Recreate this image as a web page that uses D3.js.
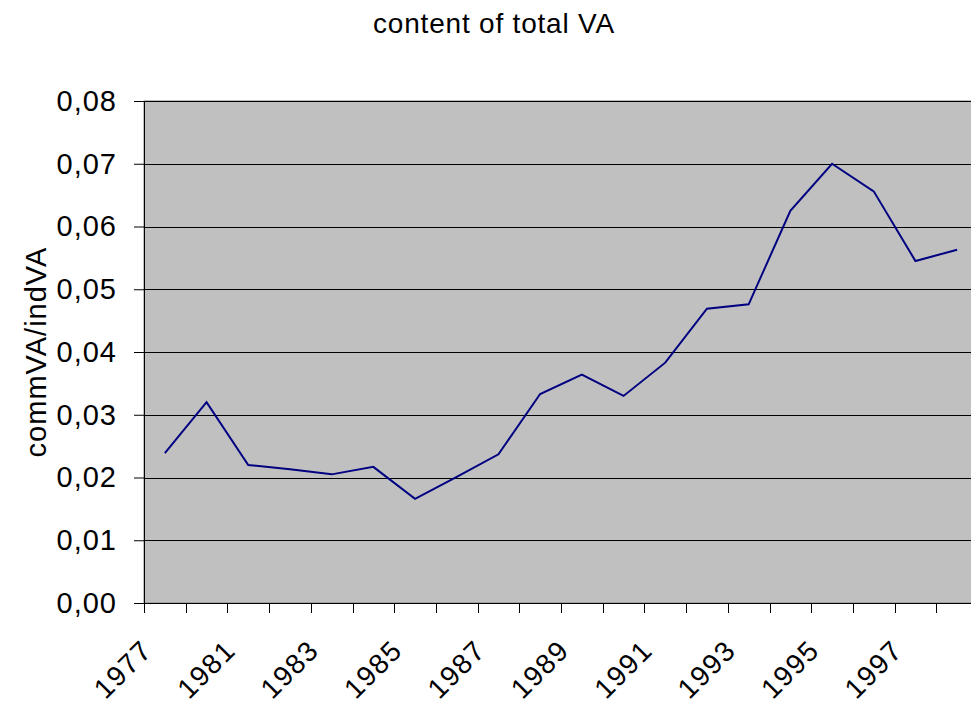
<!DOCTYPE html>
<html>
<head>
<meta charset="utf-8">
<script src="https://cdn.jsdelivr.net/npm/d3@7"></script>
<style>
  body { margin: 0; background: #fff; }
  svg { display: block; font-family: "Liberation Sans", Arial, sans-serif; }
</style>
</head>
<body>
<svg width="971" height="704"></svg>
<script>
// categories on the x axis (only every second one is labelled)
var years = ['1977', '1979', '1981', '1982', '1983', '1984', '1985', '1986', '1987', '1988',
             '1989', '1990', '1991', '1992', '1993', '1994', '1995', '1996', '1997', '1998'];
// commVA / indVA ratio
var ratio = [0.0239, 0.0320, 0.0220, 0.0213, 0.0205, 0.0217, 0.0166, 0.0201, 0.0237, 0.0333,
             0.0364, 0.0330, 0.0383, 0.0469, 0.0476, 0.0625, 0.0700, 0.0656, 0.0545, 0.0563];
var yTicks = [0, 0.01, 0.02, 0.03, 0.04, 0.05, 0.06, 0.07, 0.08];

var plotLeft = 144, plotRight = 978, plotTop = 101, plotBottom = 603;
var svg = d3.select('svg');

var x = d3.scaleBand().domain(years).range([plotLeft, plotRight]);
var y = d3.scaleLinear().domain([0, 0.08]).range([plotBottom, plotTop]);
var fmt = function(d) { return d3.format('.2f')(d).replace('.', ','); };

// plot background
svg.append('rect')
  .attr('x', plotLeft).attr('y', plotTop)
  .attr('width', plotRight - plotLeft).attr('height', plotBottom - plotTop)
  .attr('fill', '#c0c0c0')
  .attr('stroke', '#808080');

// gridlines
svg.append('g').selectAll('line')
  .data(yTicks.filter(function(d) { return d > 0; }))
  .enter().append('line')
  .attr('x1', plotLeft).attr('x2', plotRight)
  .attr('y1', function(d) { return Math.round(y(d)) + 0.5; })
  .attr('y2', function(d) { return Math.round(y(d)) + 0.5; })
  .attr('stroke', '#000');

// y axis
var yAxis = svg.append('g')
  .attr('transform', 'translate(' + plotLeft + ',0)')
  .call(d3.axisLeft(y).tickValues(yTicks).tickFormat(fmt).tickSize(10).tickPadding(17));
yAxis.select('.domain').attr('stroke', '#000').attr('d', 'M0.5,' + plotTop + 'V' + (plotBottom + 0.5));
yAxis.selectAll('.tick line').attr('stroke', '#000');
yAxis.selectAll('text')
  .attr('font-size', 29).attr('letter-spacing', 1)
  .attr('font-family', '"Liberation Sans", Arial, sans-serif')
  .attr('fill', '#000');

// x axis (ticks at the category boundaries)
svg.append('line')
  .attr('x1', plotLeft).attr('x2', plotRight)
  .attr('y1', plotBottom + 0.5).attr('y2', plotBottom + 0.5)
  .attr('stroke', '#000');
svg.append('g').selectAll('line')
  .data(years)
  .enter().append('line')
  .attr('x1', function(d) { return Math.round(x(d)) + 0.5; })
  .attr('x2', function(d) { return Math.round(x(d)) + 0.5; })
  .attr('y1', plotBottom).attr('y2', plotBottom + 10)
  .attr('stroke', '#000');

svg.append('g').selectAll('text')
  .data(years.filter(function(d, i) { return i % 2 === 0; }))
  .enter().append('text')
  .attr('transform', function(d) {
    var cx = x(d) + x.bandwidth() / 2;
    return 'translate(' + (cx - 11) + ',652) rotate(-45)';
  })
  .attr('text-anchor', 'end')
  .attr('font-size', 28).attr('letter-spacing', 1.5)
  .text(function(d) { return d; });

// the series
var line = d3.line()
  .x(function(d, i) { return x(years[i]) + x.bandwidth() / 2; })
  .y(function(d) { return y(d); });
svg.append('path')
  .datum(ratio)
  .attr('d', line)
  .attr('fill', 'none')
  .attr('stroke', '#000080')
  .attr('stroke-width', 2);

// titles
svg.append('text')
  .attr('x', 494).attr('y', 33)
  .attr('text-anchor', 'middle')
  .attr('font-size', 28).attr('letter-spacing', 0.8)
  .text('content of total VA');

svg.append('text')
  .attr('transform', 'translate(46,352) rotate(-90)')
  .attr('text-anchor', 'middle')
  .attr('font-size', 29).attr('letter-spacing', 1)
  .text('commVA/indVA');
</script>
</body>
</html>
